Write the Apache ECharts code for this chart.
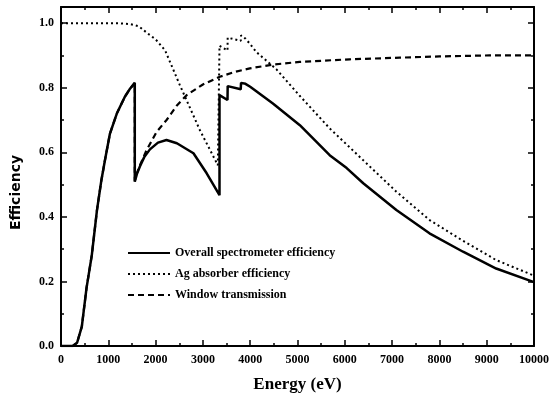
<!DOCTYPE html>
<html>
<head>
<meta charset="utf-8">
<script src="https://cdn.jsdelivr.net/npm/echarts@6/dist/echarts.min.js"></script>
<style>
  body { margin: 0; background: #fff; }
  #chart { width: 552px; height: 400px; }
</style>
</head>
<body>
<div id="chart"></div>
<script>
// Overall spectrometer efficiency (solid)
var overallE = [0, 250, 340, 440, 540, 650, 760, 850, 930, 1035, 1180, 1350, 1450, 1560, 1560, 1610, 1670, 1760, 1880, 2050, 2230, 2450, 2800, 3080, 3351, 3351, 3520, 3524, 3800, 3806, 3900, 4000, 4480, 5050, 5680, 6040, 6390, 7090, 7790, 8500, 9200, 10000];
var overallV = [0, 0, 0.01, 0.06, 0.18, 0.28, 0.42, 0.51, 0.576, 0.658, 0.72, 0.772, 0.795, 0.815, 0.509, 0.535, 0.557, 0.585, 0.609, 0.630, 0.638, 0.628, 0.597, 0.535, 0.467, 0.777, 0.762, 0.805, 0.795, 0.815, 0.812, 0.803, 0.751, 0.684, 0.591, 0.551, 0.504, 0.421, 0.349, 0.292, 0.240, 0.198];

// Ag absorber efficiency (dotted)
var agE = [0, 1200, 1460, 1650, 1815, 2000, 2200, 2513, 2935, 3316, 3351, 3351, 3520, 3524, 3800, 3806, 3900, 4000, 4133, 4555, 5047, 5681, 6385, 7090, 7793, 8497, 9201, 10000];
var agV = [1.0, 1.0, 0.997, 0.99, 0.97, 0.95, 0.916, 0.808, 0.669, 0.56, 0.556, 0.93, 0.915, 0.955, 0.945, 0.962, 0.952, 0.935, 0.91, 0.857, 0.775, 0.674, 0.576, 0.478, 0.39, 0.326, 0.266, 0.218];

// Window transmission (dashed)
var winE = [0, 250, 340, 440, 540, 650, 760, 850, 930, 1035, 1180, 1350, 1450, 1560, 1560, 1610, 1670, 1810, 2020, 2232, 2450, 2655, 3000, 3358, 3700, 3992, 4500, 5047, 6103, 7160, 8000, 9060, 10000];
var winV = [0, 0, 0.01, 0.06, 0.18, 0.28, 0.42, 0.51, 0.576, 0.658, 0.72, 0.772, 0.795, 0.815, 0.512, 0.537, 0.56, 0.607, 0.663, 0.70, 0.745, 0.777, 0.81, 0.834, 0.85, 0.86, 0.872, 0.88, 0.888, 0.893, 0.897, 0.90, 0.90];

var seriesNames = ['Overall spectrometer efficiency', 'Ag absorber efficiency', 'Window transmission'];

function pairs(xs, ys) {
  return xs.map(function (x, i) { return [x, ys[i]]; });
}

var serif = '"Liberation Serif", "DejaVu Serif", serif';
var tickStyle = { show: true, inside: true, length: 6, lineStyle: { color: '#000', width: 1.5 } };
var minorStyle = { show: true, splitNumber: 2, length: 3, lineStyle: { color: '#000', width: 1.5 } };
var lineAxis = { show: true, onZero: false, lineStyle: { color: '#000', width: 2 } };

var chart = echarts.init(document.getElementById('chart'));
chart.setOption({
  animation: false,
  backgroundColor: '#fff',
  grid: { left: 61, right: 17, top: 7, bottom: 54 },
  legend: {
    data: seriesNames,
    orient: 'vertical',
    left: 122,
    top: 242,
    itemWidth: 42,
    itemHeight: 10,
    itemGap: 9,
    itemStyle: { color: 'rgba(0,0,0,0)', borderWidth: 0 },
    textStyle: { fontFamily: serif, fontWeight: 'bold', fontSize: 12, color: '#000' }
  },
  xAxis: [
    {
      type: 'value', min: 0, max: 10000, interval: 1000, position: 'bottom',
      name: 'Energy (eV)', nameLocation: 'middle', nameGap: 30,
      nameTextStyle: { fontFamily: serif, fontWeight: 'bold', fontSize: 17, color: '#000' },
      axisLine: lineAxis, axisTick: tickStyle, minorTick: minorStyle,
      splitLine: { show: false },
      axisLabel: {
        fontFamily: serif, fontWeight: 'bold', fontSize: 12, color: '#000', margin: 8,
        formatter: function (v) { return String(v); }
      }
    },
    {
      type: 'value', min: 0, max: 10000, interval: 1000, position: 'top',
      axisLine: lineAxis, axisTick: tickStyle, minorTick: minorStyle,
      splitLine: { show: false }, axisLabel: { show: false }
    }
  ],
  yAxis: [
    {
      type: 'value', min: 0, max: 1.05, interval: 0.2, position: 'left',
      name: 'Efficiency', nameLocation: 'middle', nameGap: 38,
      nameTextStyle: { fontFamily: '"DejaVu Sans", sans-serif', fontWeight: 'bold', fontSize: 14, color: '#000', padding: [0, 32, 0, 0] },
      axisLine: lineAxis, axisTick: tickStyle, minorTick: minorStyle,
      splitLine: { show: false },
      axisLabel: {
        fontFamily: serif, fontWeight: 'bold', fontSize: 12, color: '#000', margin: 7,
        showMaxLabel: false,
        formatter: function (v) { return v.toFixed(1); }
      }
    },
    {
      type: 'value', min: 0, max: 1.05, interval: 0.2, position: 'right',
      axisLine: lineAxis, axisTick: tickStyle, minorTick: minorStyle,
      splitLine: { show: false }, axisLabel: { show: false }
    }
  ],
  series: [
    {
      name: seriesNames[2], type: 'line', symbol: 'none', z: 2,
      data: pairs(winE, winV),
      lineStyle: { color: '#000', width: 2.2, type: [6, 4] },
      itemStyle: { color: '#000' }
    },
    {
      name: seriesNames[1], type: 'line', symbol: 'none', z: 3,
      data: pairs(agE, agV),
      lineStyle: { color: '#000', width: 2, type: [2, 3] },
      itemStyle: { color: '#000' }
    },
    {
      name: seriesNames[0], type: 'line', symbol: 'none', z: 4,
      data: pairs(overallE, overallV),
      lineStyle: { color: '#000', width: 2.5 },
      itemStyle: { color: '#000' }
    }
  ]
});
</script>
</body>
</html>
